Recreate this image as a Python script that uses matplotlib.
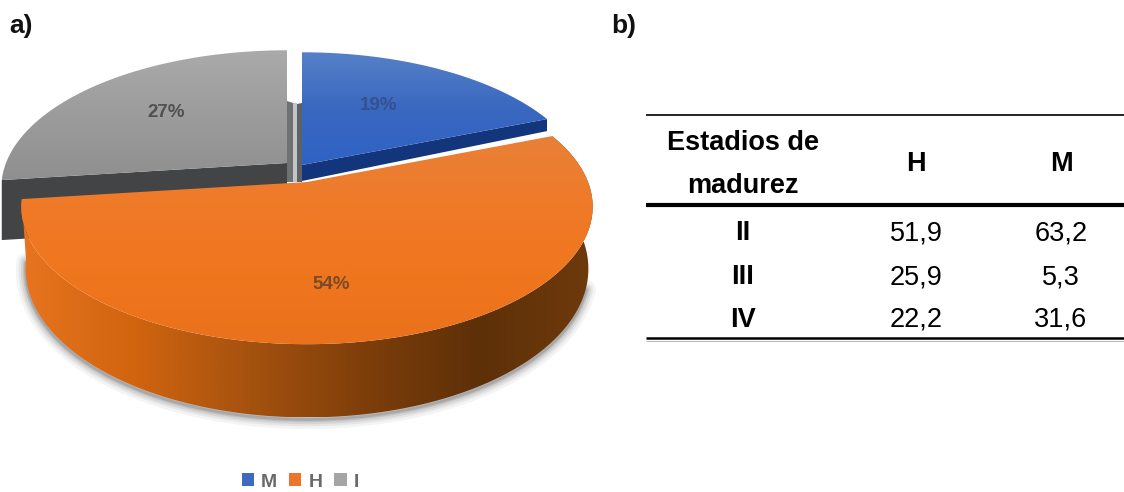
import numpy as np
import matplotlib
matplotlib.use("Agg")
import matplotlib.pyplot as plt
from matplotlib.colors import LinearSegmentedColormap
from matplotlib.patches import Patch, PathPatch, Polygon
from matplotlib.path import Path

# pie data
slice_names = ["M", "H", "I"]
slice_pct = [19, 54, 27]

# table data
table_rows = ["II", "III", "IV"]
table_h = ["51,9", "25,9", "22,2"]
table_m = ["63,2", "5,3", "31,6"]

plt.rcParams['font.family'] = ['Liberation Sans', 'DejaVu Sans']

fig = plt.figure(figsize=(11.24, 4.92), dpi=100)
ax = fig.add_axes([0, 0, 1, 1])
ax.set_xlim(0, 1124)
ax.set_ylim(492, 0)
ax.axis("off")

# tilted pie: circle seen with perspective, front is bigger than back
R = 281.0
RY = 133.0
PERSP = 0.18
DEPTH = 60.0
centers = {"M": (302.0, 165.0), "H": (307.0, 182.0), "I": (287.0, 163.0)}


def project(ang, cx, cy, drop=0.0, shrink=1.0):
    X = np.sin(ang)
    Y = np.cos(ang)
    s = 1.0 / (1.0 + PERSP * Y)
    return cx + R * shrink * X * s, cy - RY * Y * s + drop * s


def rim(a0, a1, cx, cy, drop=0.0, shrink=1.0):
    ang = np.linspace(a0, a1, 200)
    x, y = project(ang, cx, cy, drop, shrink)
    return np.column_stack([x, y])


def grad_fill(pts, colors, vertical=True, zorder=2, extent=None):
    path = Path(np.vstack([pts, pts[:1]]), closed=True)
    patch = PathPatch(path, fc="none", ec="none", transform=ax.transData)
    ax.add_patch(patch)
    cmap = LinearSegmentedColormap.from_list("g", colors)
    g = np.linspace(0, 1, 256)
    g = g.reshape(-1, 1) if vertical else g.reshape(1, -1)
    if extent is None:
        extent = (pts[:, 0].min(), pts[:, 0].max(), pts[:, 1].max(), pts[:, 1].min())
    im = ax.imshow(g, cmap=cmap, extent=extent, aspect="auto", zorder=zorder, interpolation="bilinear")
    im.set_clip_path(patch)
    ax.set_xlim(0, 1124)
    ax.set_ylim(492, 0)


edges = np.cumsum([0] + slice_pct) / 100.0 * 2 * np.pi
wedge = {n: (edges[i], edges[i + 1]) for i, n in enumerate(slice_names)}

# grey slice
a0, a1 = wedge["I"]
cx, cy = centers["I"]
top = rim(a0, a1, cx, cy)
side = np.vstack([[[cx, cy]], top[:1], top[:1] + [0, DEPTH], [[cx, cy + DEPTH]]])
ax.add_patch(Polygon(side, fc="#424446", ec="none", zorder=1))
grad_fill(np.vstack([[[cx, cy]], top]), ["#aaaaaa", "#9c9c9c", "#8f8f8f"], zorder=3)

# blue slice
a0, a1 = wedge["M"]
cx, cy = centers["M"]
top = rim(a0, a1, cx, cy)
side = np.vstack([[[cx, cy]], top[-1:], top[-1:] + [0, 12], [[cx, cy + 16]]])
ax.add_patch(Polygon(side, fc="#12357c", ec="none", zorder=1))
grad_fill(np.vstack([[[cx, cy]], top]), ["#5580c8", "#3a68c0", "#2f62c4"], zorder=3)

# inner walls seen through the gap
gx = centers["I"][0]
ax.add_patch(Polygon([[gx, 101], [gx + 6, 103], [gx + 6, 182], [gx, 182]], fc="#6e7072", ec="none", zorder=2))
ax.add_patch(Polygon([[gx + 6, 103], [gx + 10, 103], [gx + 10, 182], [gx + 6, 182]], fc="#c2c4c6", ec="none", zorder=2))
ax.add_patch(Polygon([[gx + 10, 104], [gx + 15, 103], [gx + 15, 182], [gx + 10, 182]], fc="#5c6268", ec="none", zorder=2))

# orange slice, soft shadow under the side first
a0, a1 = wedge["H"]
cx, cy = centers["H"]
top = rim(a0, a1, cx, cy)
low = rim(a0, a1, cx, cy, DEPTH, 0.985)
body = np.vstack([top, low[::-1]])
for lw, al in zip([14, 10, 7, 4, 2], [0.05, 0.07, 0.09, 0.12, 0.16]):
    ax.add_patch(Polygon(low[40:] + [0, 2], closed=False, fill=False, ec="#303030", lw=lw, alpha=al,
                         capstyle="round", zorder=4))
grad_fill(body, ["#e8741f", "#d0640f", "#a5520f", "#7e3e0a", "#5e3008", "#6e3a0c"],
          vertical=False, zorder=5)
grad_fill(np.vstack([[[cx, cy]], top]), ["#e88038", "#f07a28", "#f0761e", "#ea721c"], zorder=6)

# percent labels, projected from each slice middle
label_frac = [0.56, 0.66, 0.64]
label_dx = [0, -32, 0]
label_dy = [-6, 0, 0]
label_col = ["#34518f", "#7a4a28", "#505050"]
for i, n in enumerate(slice_names):
    x, y = project(0.5 * (wedge[n][0] + wedge[n][1]), centers[n][0], centers[n][1])
    lx = centers[n][0] + (x - centers[n][0]) * label_frac[i] + label_dx[i]
    ly = centers[n][1] + (y - centers[n][1]) * label_frac[i] + label_dy[i]
    ax.text(lx, ly, "%d%%" % slice_pct[i], ha="center", va="center", fontsize=13.5,
            fontweight="bold", color=label_col[i], zorder=8)

# legend
handles = [Patch(fc=c, ec="none") for c in ["#3f69c0", "#ed7428", "#a5a5a5"]]
leg = ax.legend(handles, slice_names, ncol=3, frameon=False, loc="center",
                bbox_to_anchor=(300.5, 482), bbox_transform=ax.transData,
                handlelength=0.62, handleheight=0.62,
                handletextpad=0.36, columnspacing=0.62, labelcolor="#6a6a6a",
                prop={"weight": "bold", "size": 14})

# panel letters
ax.text(9, 26, "a)", fontsize=19, fontweight="bold", ha="left", va="center", color="#111111")
ax.text(611, 26, "b)", fontsize=19, fontweight="bold", ha="left", va="center", color="#111111")

# table b)
col_first = 743
col_h = 916
col_m = 1061
row_y = [233, 277, 320]
fs = 19.5
ax.text(col_first, 143, "Estadios de", fontsize=fs, fontweight="bold", ha="center", va="center")
ax.text(col_first, 186, "madurez", fontsize=fs, fontweight="bold", ha="center", va="center")
ax.text(col_h, 164, "H", fontsize=fs, fontweight="bold", ha="center", va="center")
ax.text(col_m, 164, "M", fontsize=fs, fontweight="bold", ha="center", va="center")
for y, r, h, m in zip(row_y, table_rows, table_h, table_m):
    ax.text(col_first, y, r, fontsize=fs, fontweight="bold", ha="center", va="center")
    ax.text(col_h, y, h, fontsize=fs, ha="center", va="center")
    ax.text(col_m, y, m, fontsize=fs, ha="center", va="center")
ax.hlines(115, 646, 1124, color="#222222", lw=1.4)
ax.hlines(205, 646, 1124, color="black", lw=3.0)
ax.hlines(338, 646, 1124, color="black", lw=1.8)
ax.hlines(341, 646, 1124, color="#bbbbbb", lw=0.8)

fig.savefig("out.png", dpi=100)
